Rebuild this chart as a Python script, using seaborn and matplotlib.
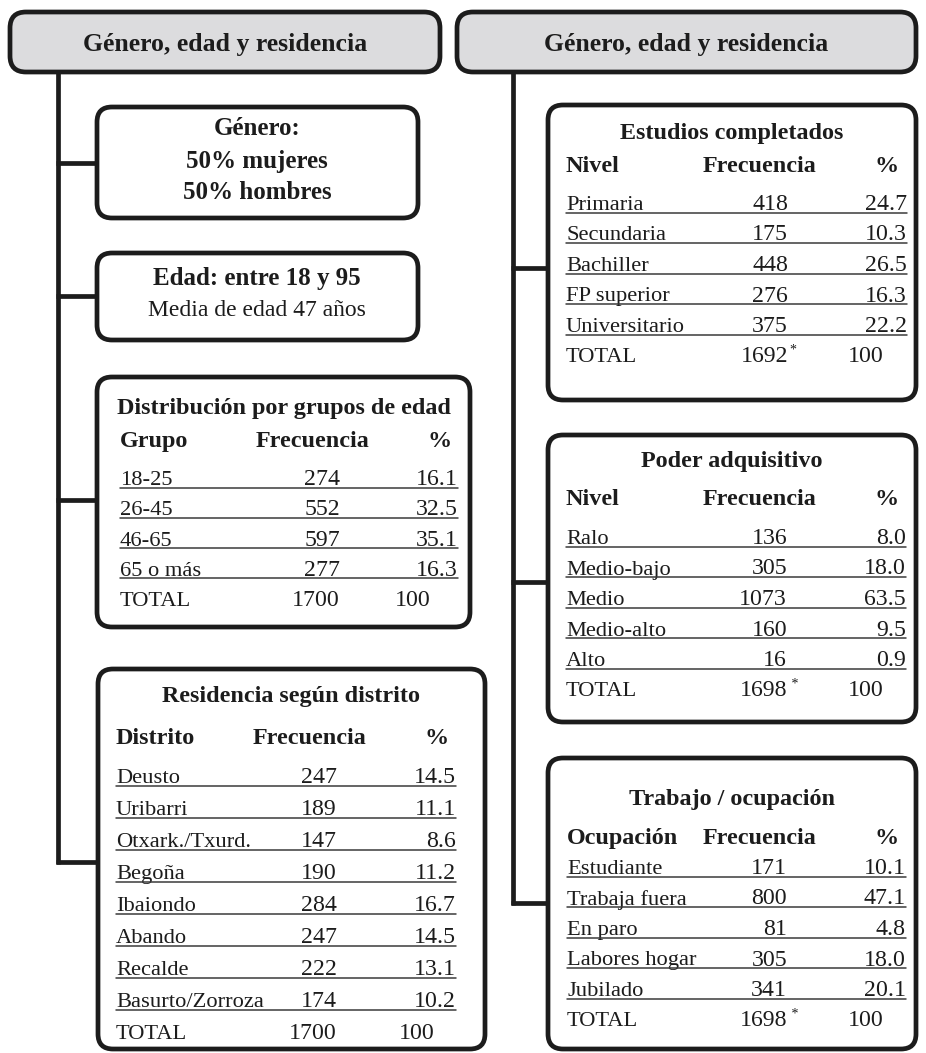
import matplotlib
matplotlib.use("Agg")
import matplotlib.pyplot as plt
from matplotlib.patches import FancyBboxPatch
import seaborn as sns

# ---------------- data ----------------
header_title = "Género, edad y residencia"

gender_lines = ["Género:", "50% mujeres", "50% hombres"]
age_range_line = "Edad: entre 18 y 95"
age_mean_line = "Media de edad 47 años"

age_groups = ["18-25", "26-45", "46-65", "65 o más"]
age_freq = [274, 552, 597, 277]
age_pct = [16.1, 32.5, 35.1, 16.3]
age_total = (1700, 100, "")

districts = ["Deusto", "Uribarri", "Otxark./Txurd.", "Begoña", "Ibaiondo",
             "Abando", "Recalde", "Basurto/Zorroza"]
district_freq = [247, 189, 147, 190, 284, 247, 222, 174]
district_pct = [14.5, 11.1, 8.6, 11.2, 16.7, 14.5, 13.1, 10.2]
district_total = (1700, 100, "")

edu_levels = ["Primaria", "Secundaria", "Bachiller", "FP superior", "Universitario"]
edu_freq = [418, 175, 448, 276, 375]
edu_pct = [24.7, 10.3, 26.5, 16.3, 22.2]
edu_total = (1692, 100, "*")

income_levels = ["Ralo", "Medio-bajo", "Medio", "Medio-alto", "Alto"]
income_freq = [136, 305, 1073, 160, 16]
income_pct = [8.0, 18.0, 63.5, 9.5, 0.9]
income_total = (1698, 100, " *")

occupations = ["Estudiante", "Trabaja fuera", "En paro", "Labores hogar", "Jubilado"]
occ_freq = [171, 800, 81, 305, 341]
occ_pct = [10.1, 47.1, 4.8, 18.0, 20.1]
occ_total = (1698, 100, " *")

# ---------------- style ----------------
sns.set_theme(style="white")
plt.rcParams["font.family"] = ["Liberation Serif", "DejaVu Serif"]

INK = "#1c1c1c"
RULE = "#3a3a3a"
LW = 3.4
BODY = 16.2
NUM = 17.2
BOLD = 17.4

W, H = 926, 1053
fig = plt.figure(figsize=(W / 100, H / 100), dpi=100)
ax = fig.add_axes([0, 0, 1, 1])
ax.set_xlim(0, W)
ax.set_ylim(H, 0)
ax.axis("off")


def rbox(x0, y0, x1, y1, fill="white", r=15):
    p = FancyBboxPatch((x0, y0), x1 - x0, y1 - y0,
                       boxstyle=f"round,pad=0,rounding_size={r}",
                       fc=fill, ec=INK, lw=LW, zorder=3)
    ax.add_patch(p)


def line(xs, ys):
    ax.plot(xs, ys, color=INK, lw=LW, solid_capstyle="butt", zorder=2)


def table(box, title, title_y, hdr, hdr_y, base0, dy, labels, freqs, pcts, total,
          xl, xf, xp, xfh, xph, xtp):
    x0, y0, x1, y1 = box
    rbox(x0, y0, x1, y1)
    ax.text((x0 + x1) / 2, title_y, title, ha="center", va="baseline",
            fontsize=BOLD, fontweight="bold", color=INK, zorder=4)
    ax.text(xl, hdr_y, hdr, ha="left", va="baseline",
            fontsize=BOLD, fontweight="bold", color=INK, zorder=4)
    ax.text(xfh, hdr_y, "Frecuencia", ha="center", va="baseline",
            fontsize=BOLD, fontweight="bold", color=INK, zorder=4)
    ax.text(xph, hdr_y, "%", ha="center", va="baseline",
            fontsize=BOLD, fontweight="bold", color=INK, zorder=4)
    for i, (lab, f, p) in enumerate(zip(labels, freqs, pcts)):
        yb = base0 + i * dy
        ax.text(xl, yb, lab, ha="left", va="baseline", fontsize=BODY, color=INK, zorder=4)
        ax.text(xf, yb, f"{f}", ha="right", va="baseline", fontsize=NUM, color=INK, zorder=4)
        ax.text(xp, yb, f"{p:.1f}", ha="right", va="baseline", fontsize=NUM, color=INK, zorder=4)
        ax.plot([xl, xp], [yb + 2.5, yb + 2.5], color=RULE, lw=1.1, zorder=4)
    yb = base0 + len(labels) * dy
    tf, tp, mark = total
    ax.text(xl, yb, "TOTAL", ha="left", va="baseline", fontsize=BODY, color=INK, zorder=4)
    ax.text(xf, yb, f"{tf}", ha="right", va="baseline", fontsize=NUM, color=INK, zorder=4)
    if mark:
        ax.text(xf + 1, yb - 9, mark, ha="left", va="baseline", fontsize=10, color=INK, zorder=4)
    ax.text(xtp, yb, f"{tp}", ha="center", va="baseline", fontsize=NUM, color=INK, zorder=4)


# ---------------- header bars ----------------
for (x0, x1) in [(10, 440), (457, 916)]:
    rbox(x0, 12, x1, 72, fill="#dcdcde", r=16)
    ax.text((x0 + x1) / 2, 51, header_title, ha="center", va="baseline",
            fontsize=18.5, fontweight="bold", color=INK, zorder=4)

# ---------------- connectors ----------------
line([58, 58], [72, 864])
for y in [163, 296, 500, 862]:
    line([56, 98], [y, y])
line([513, 513], [72, 905])
for y in [268, 582]:
    line([511, 549], [y, y])
line([511, 549], [903, 903])

# ---------------- left column ----------------
rbox(97, 107, 418, 218)
for txt, yb in zip(gender_lines, [135, 168, 199]):
    ax.text(257, yb, txt, ha="center", va="baseline", fontsize=18,
            fontweight="bold", color=INK, zorder=4)

rbox(97, 253, 418, 340)
ax.text(257, 285, age_range_line, ha="center", va="baseline", fontsize=18,
        fontweight="bold", color=INK, zorder=4)
ax.text(257, 316, age_mean_line, ha="center", va="baseline", fontsize=BODY + 0.8,
        color=INK, zorder=4)

table((97, 377, 470, 627), "Distribución por grupos de edad", 414,
      "Grupo", 447, 485, 30.3, age_groups, age_freq, age_pct, age_total,
      120, 340, 458, 313, 440, 413)

table((98, 669, 485, 1049), "Residencia según distrito", 702,
      "Distrito", 744, 783, 32.0, districts, district_freq, district_pct, district_total,
      116, 337, 456, 310, 437, 417)

# ---------------- right column ----------------
table((548, 105, 916, 400), "Estudios completados", 139,
      "Nivel", 172, 210, 30.5, edu_levels, edu_freq, edu_pct, edu_total,
      566, 788, 907, 760, 887, 866)

table((548, 435, 916, 722), "Poder adquisitivo", 467,
      "Nivel", 505, 544, 30.5, income_levels, income_freq, income_pct, income_total,
      566, 787, 906, 760, 887, 866)

table((548, 758, 916, 1049), "Trabajo / ocupación", 805,
      "Ocupación", 844, 874, 30.5, occupations, occ_freq, occ_pct, occ_total,
      567, 787, 906, 760, 887, 866)

fig.savefig("out.png", dpi=100, facecolor="white")
